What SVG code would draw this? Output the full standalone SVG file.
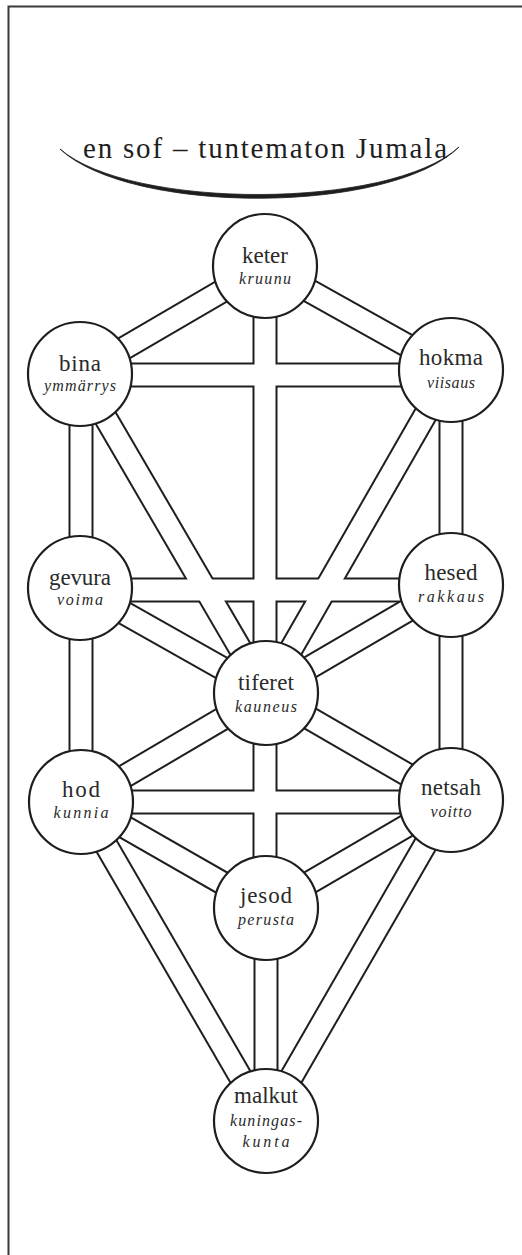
<svg xmlns="http://www.w3.org/2000/svg" xmlns:xlink="http://www.w3.org/1999/xlink" width="522" height="1255" viewBox="0 0 522 1255">
<style>
.bg{fill:#ffffff}
.frame{fill:none;stroke:#3a3a3a;stroke-width:2}
.outer use{stroke:#1e1e1e;stroke-width:25;fill:none;stroke-linecap:butt}
.inner use{stroke:#ffffff;stroke-width:21;fill:none;stroke-linecap:butt}
.node circle{fill:#ffffff;stroke:#1e1e1e;stroke-width:2.2}
.name{font-family:"Liberation Serif","Times New Roman",serif;font-size:23px;fill:#2a2a2a;text-anchor:middle}
.tr{font-family:"Liberation Serif","Times New Roman",serif;font-size:16px;font-style:italic;fill:#2a2a2a;text-anchor:middle}
.title{font-family:"Liberation Serif","Times New Roman",serif;font-size:29px;fill:#1e1e1e;text-anchor:middle}
</style>
<defs>
<path id="c1" d="M265,266 L80,374"/>
<path id="c2" d="M265,266 L451,370"/>
<path id="c3" d="M265,266 V693"/>
<path id="c4" d="M80,375 H451"/>
<path id="c5" d="M81,374 V588"/>
<path id="c6" d="M80,374 L266,693"/>
<path id="c7" d="M451,370 V585"/>
<path id="c8" d="M451,370 L266,693"/>
<path id="c9" d="M80,590 H451"/>
<path id="c10" d="M80,588 L266,693"/>
<path id="c11" d="M451,585 L266,693"/>
<path id="c12" d="M81,588 V802"/>
<path id="c13" d="M451,585 V800"/>
<path id="c14" d="M266,693 L81,802"/>
<path id="c15" d="M266,693 L451,800"/>
<path id="c16" d="M265,693 V908"/>
<path id="c17" d="M81,802 H451"/>
<path id="c18" d="M81,802 L266,908"/>
<path id="c19" d="M451,800 L266,908"/>
<path id="c20" d="M81,802 L266,1121"/>
<path id="c21" d="M451,800 L266,1121"/>
<path id="c22" d="M266,908 V1121"/>
</defs>
<rect class="bg" x="0" y="0" width="522" height="1255"/>
<path class="frame" d="M8.5,1255 V6.5 H522"/>
<g id="en-sof">
<text class="title" x="265" y="158" textLength="364">en sof – tuntematon Jumala</text>
<path d="M60,149 C130,215 390,215 459,147 C390,210 130,210 60,149 Z" fill="#1e1e1e" stroke="#1e1e1e" stroke-width="0.8"/>
</g>
<g id="connectors">
<g class="outer">
<use xlink:href="#c1"/><use xlink:href="#c2"/><use xlink:href="#c3"/><use xlink:href="#c4"/><use xlink:href="#c5"/><use xlink:href="#c6"/><use xlink:href="#c7"/><use xlink:href="#c8"/><use xlink:href="#c9"/><use xlink:href="#c10"/><use xlink:href="#c11"/><use xlink:href="#c12"/><use xlink:href="#c13"/><use xlink:href="#c14"/><use xlink:href="#c15"/><use xlink:href="#c16"/><use xlink:href="#c17"/><use xlink:href="#c18"/><use xlink:href="#c19"/><use xlink:href="#c20"/><use xlink:href="#c21"/><use xlink:href="#c22"/>
</g>
<g class="inner">
<use xlink:href="#c1"/><use xlink:href="#c2"/><use xlink:href="#c3"/><use xlink:href="#c4"/><use xlink:href="#c5"/><use xlink:href="#c6"/><use xlink:href="#c7"/><use xlink:href="#c8"/><use xlink:href="#c9"/><use xlink:href="#c10"/><use xlink:href="#c11"/><use xlink:href="#c12"/><use xlink:href="#c13"/><use xlink:href="#c14"/><use xlink:href="#c15"/><use xlink:href="#c16"/><use xlink:href="#c17"/><use xlink:href="#c18"/><use xlink:href="#c19"/><use xlink:href="#c20"/><use xlink:href="#c21"/><use xlink:href="#c22"/>
</g>
</g>
<g id="keter" class="node"><circle cx="265" cy="266" r="52"/><text class="name" x="265" y="263" textLength="46">keter</text><text class="tr" x="265" y="284" textLength="52">kruunu</text></g>
<g id="bina" class="node"><circle cx="80" cy="374" r="52"/><text class="name" x="80" y="371" textLength="42">bina</text><text class="tr" x="80" y="391" textLength="72">ymmärrys</text></g>
<g id="hokma" class="node"><circle cx="451" cy="370" r="52"/><text class="name" x="451" y="365" textLength="64">hokma</text><text class="tr" x="451" y="388" textLength="48">viisaus</text></g>
<g id="gevura" class="node"><circle cx="80" cy="588" r="52"/><text class="name" x="80" y="585" textLength="62">gevura</text><text class="tr" x="80" y="605" textLength="46">voima</text></g>
<g id="hesed" class="node"><circle cx="451" cy="585" r="52"/><text class="name" x="451" y="580" textLength="53">hesed</text><text class="tr" x="451" y="602" textLength="66">rakkaus</text></g>
<g id="tiferet" class="node"><circle cx="266" cy="693" r="52"/><text class="name" x="266" y="690" textLength="56">tiferet</text><text class="tr" x="266" y="712" textLength="62">kauneus</text></g>
<g id="hod" class="node"><circle cx="81" cy="802" r="52"/><text class="name" x="81" y="797" textLength="38">hod</text><text class="tr" x="81" y="818" textLength="55">kunnia</text></g>
<g id="netsah" class="node"><circle cx="451" cy="800" r="52"/><text class="name" x="451" y="795" textLength="60">netsah</text><text class="tr" x="451" y="817" textLength="41">voitto</text></g>
<g id="jesod" class="node"><circle cx="266" cy="908" r="52"/><text class="name" x="266" y="903" textLength="52">jesod</text><text class="tr" x="266" y="925" textLength="56">perusta</text></g>
<g id="malkut" class="node"><circle cx="266" cy="1121" r="52"/><text class="name" x="266" y="1103" textLength="64">malkut</text><text class="tr" x="266" y="1126" textLength="72">kuningas-</text><text class="tr" x="266" y="1147" textLength="47">kunta</text></g>
</svg>
